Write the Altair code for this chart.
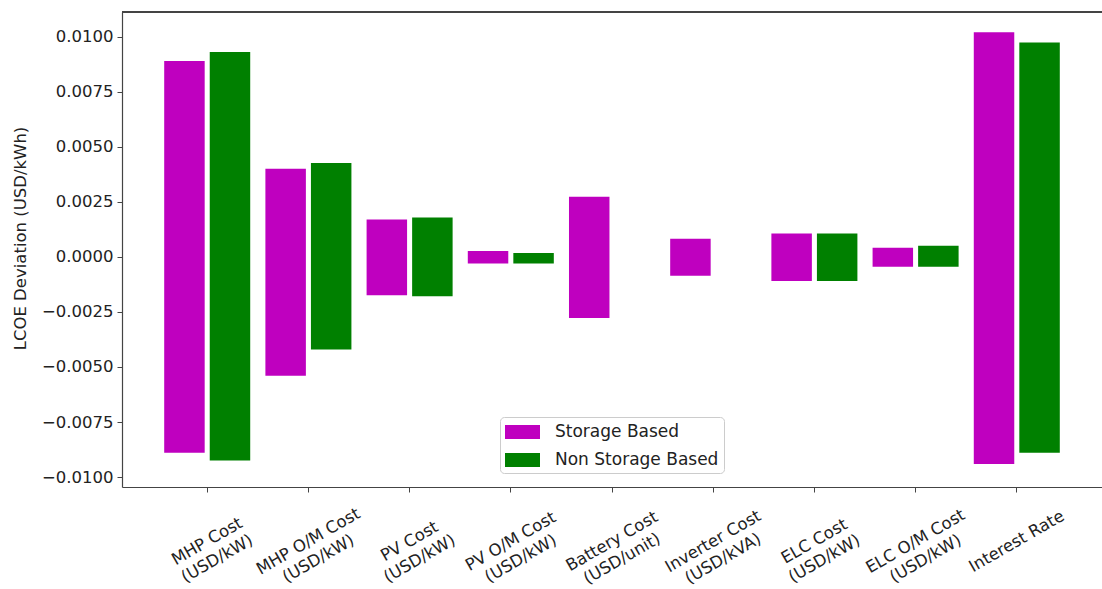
import altair as alt
import pandas as pd

categories = [
    "MHP Cost\n(USD/kW)",
    "MHP O/M Cost\n(USD/kW)",
    "PV Cost\n(USD/kW)",
    "PV O/M Cost\n(USD/kW)",
    "Battery Cost\n(USD/unit)",
    "Inverter Cost\n(USD/kVA)",
    "ELC Cost\n(USD/kW)",
    "ELC O/M Cost\n(USD/kW)",
    "Interest Rate",
]
series = ["Storage Based", "Non Storage Based"]

storage_high = [0.0089, 0.0040, 0.0017, 0.00027, 0.00273, 0.00082, 0.00106, 0.00041, 0.0102]
storage_low = [-0.0089, -0.0054, -0.00174, -0.0003, -0.00277, -0.00086, -0.0011, -0.00045, -0.0094]
non_storage_high = [0.0093, 0.00426, 0.00179, 0.00018, None, None, 0.00106, 0.0005, 0.00973]
non_storage_low = [-0.00925, -0.00421, -0.00179, -0.0003, None, None, -0.0011, -0.00045, -0.0089]

y_ticks = [-0.01, -0.0075, -0.005, -0.0025, 0.0, 0.0025, 0.005, 0.0075, 0.01]

rows = []
for c, hi, lo in zip(categories, storage_high, storage_low):
    rows.append({"category": c, "series": series[0], "high": hi, "low": lo})
for c, hi, lo in zip(categories, non_storage_high, non_storage_low):
    if hi is not None:
        rows.append({"category": c, "series": series[1], "high": hi, "low": lo})
df = pd.DataFrame(rows)

FONT = "DejaVu Sans"
TXT = "#222222"
W, H = 980, 475

bars = alt.Chart(df).mark_bar().encode(
    x=alt.X(
        "category:N",
        sort=categories,
        scale=alt.Scale(paddingInner=0.15, paddingOuter=0.417),
        axis=alt.Axis(
            title=None,
            labelAngle=-30,
            labelAlign="center",
            labelBaseline="middle",
            labelPadding=49,
            tickSize=5,
            labelOverlap=False,
            labelExpr="split(datum.label, '\\n')",
            labelLineHeight=20,
        ),
    ),
    xOffset=alt.XOffset(
        "series:N",
        sort=series,
        scale=alt.Scale(domain=series, paddingInner=0.111, paddingOuter=0),
    ),
    y=alt.Y(
        "low:Q",
        scale=alt.Scale(domain=[-0.01045, 0.01112], nice=False, zero=False),
        axis=alt.Axis(
            title="LCOE Deviation (USD/kWh)",
            values=y_ticks,
            format=".4f",
            tickSize=5,
            labelPadding=4,
            titleAngle=-90,
            titleX=-102,
            titleY=226,
            titleAlign="center",
            titleBaseline="middle",
        ),
    ),
    y2="high:Q",
    color=alt.Color(
        "series:N",
        scale=alt.Scale(domain=series, range=["#bf00bf", "#008000"]),
        legend=alt.Legend(
            title=None,
            orient="none",
            legendX=378,
            legendY=405,
            symbolType="M-1,-0.7L2.5,-0.7L2.5,0.7L-1,0.7Z",
            symbolSize=400,
            symbolStrokeWidth=0,
            labelFontSize=17,
            labelFont=FONT,
            labelColor=TXT,
            labelOffset=30,
            labelLimit=400,
            rowPadding=10,
            padding=5,
            strokeColor="#cccccc",
            fillColor="white",
            cornerRadius=4,
        ),
    ),
)

top_rule = alt.Chart(df).mark_rule(color="#444444", strokeWidth=1.2).encode(
    x=alt.value(0), x2=alt.value(W), y=alt.value(0)
)

chart = (
    alt.layer(bars, top_rule)
    .properties(
        width=W,
        height=H,
        autosize=alt.AutoSizeParams(type="none"),
        padding={"left": 122, "top": 12, "right": 0, "bottom": 102},
        background="white",
    )
    .configure_view(stroke=None)
    .configure_axis(
        grid=False,
        domainColor="#444444",
        domainWidth=1.2,
        tickColor="#444444",
        labelFont=FONT,
        labelFontSize=16.5,
        labelColor=TXT,
        titleFont=FONT,
        titleFontSize=16.5,
        titleColor=TXT,
        titleFontWeight="normal",
    )
)

chart.save("out.html", embed_options={"renderer": "svg", "actions": False})
